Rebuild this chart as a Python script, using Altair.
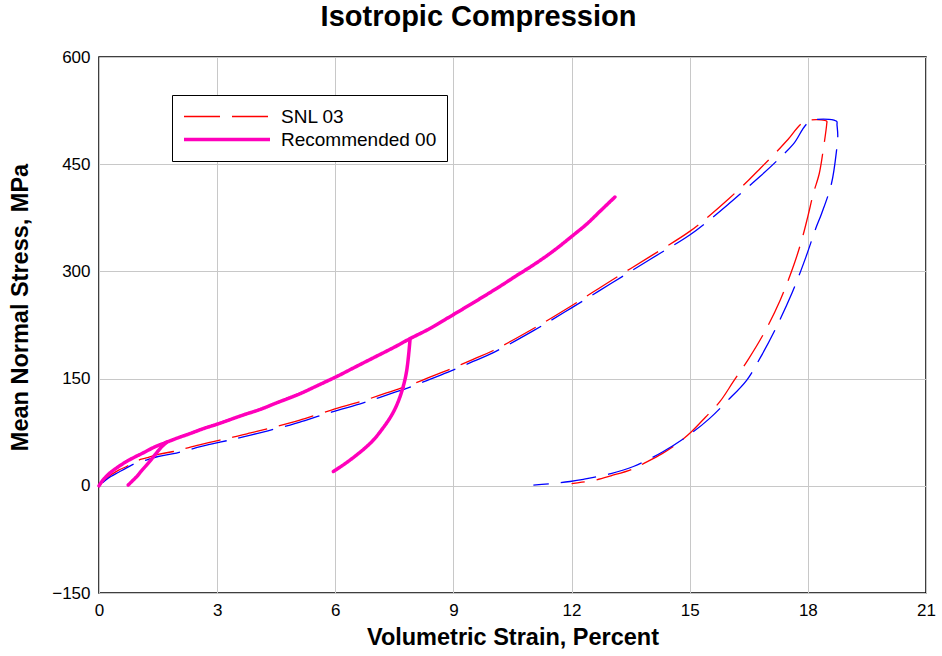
import altair as alt
import pandas as pd

# ---------------- data ----------------
# Recommended 00 : main loading curve
rec_main_strain = [0, 0.1, 0.28, 0.5, 0.7, 0.9, 1.12, 1.4, 1.72, 2.0, 2.31, 2.65, 2.99, 3.66,
                   4.1, 4.51, 5.11, 5.5, 6.04, 6.5, 7.0, 7.5, 7.9, 8.4, 8.83, 9.5, 10.18,
                   10.6, 11.03, 11.5, 12.05, 12.4, 12.72, 13.1]
rec_main_stress = [0, 8, 18, 27, 34, 40, 46, 54, 61, 67, 73, 80, 86, 99,
                   107, 116, 129, 139, 153, 166, 180, 194, 206, 220, 234, 256, 279,
                   294, 309, 327, 351, 367, 384, 404]
# Recommended 00 : first unload/reload loop
rec_loop1_strain = [1.72, 1.6, 1.46, 1.33, 1.21, 1.08, 0.96, 0.85, 0.74]
rec_loop1_stress = [61, 55, 46, 37, 29, 21, 13, 7, 1]
# Recommended 00 : second unload/reload loop
rec_loop2_strain = [7.9, 7.86, 7.81, 7.74, 7.64, 7.52, 7.39, 7.2, 7.0, 6.8, 6.54, 6.25, 5.95]
rec_loop2_stress = [206, 182, 160, 142, 124, 108, 95, 80, 66, 55, 43, 31, 20]

# SNL 03 (red)
snl_red_strain = [0, 0.15, 0.3, 0.5, 0.7, 0.91, 1.2, 1.5, 1.89, 2.18, 2.6, 3.07, 3.4, 3.85, 4.29,
                  4.85, 5.1, 5.9, 6.71, 7.3, 7.9, 8.4, 8.91, 9.5, 10, 11, 12, 13, 14, 15, 15.5,
                  16, 16.5, 16.79, 17.2, 17.5, 17.93, 18.48,
                  18.48, 18.39, 18.29, 18.14, 18.0, 17.85, 17.65, 17.3, 16.9, 16.5, 16.11,
                  15.77, 15.4, 15.05, 14.71, 14.3, 13.86, 13.53, 13.0, 12.6, 12.26, 12.0]
snl_red_stress = [0, 8, 15, 22, 27, 34, 39, 44, 48, 52, 58, 64, 68, 74, 80,
                  88, 92, 106, 119, 130, 141, 152, 163, 177, 189, 219, 252, 287, 321, 356, 378,
                  402, 428, 444, 467, 485, 510, 510,
                  507, 470, 437, 409, 377, 345, 310, 260, 215, 178, 146,
                  118, 96, 76, 60, 45, 32, 23, 14, 8, 5, 3]

# SNL 03 (blue companion curve, not in legend)
snl_blue_strain = [0, 0.15, 0.3, 0.5, 0.7, 0.91, 1.2, 1.5, 1.89, 2.18, 2.6, 3.07, 3.4, 3.85, 4.29,
                   4.85, 5.1, 5.9, 6.71, 7.3, 7.9, 8.4, 8.91, 9.5, 10, 11, 12, 13, 14, 15, 15.5,
                   16, 16.5, 16.79, 17.2, 17.63, 18.06, 18.73,
                   18.74, 18.76, 18.73, 18.6, 18.35, 18.2, 17.95, 17.6, 17.2, 16.8, 16.45,
                   15.94, 15.5, 15.05, 14.33, 13.57, 13.0, 12.3, 11.96, 11.5, 11.03]
snl_blue_stress = [0, 7, 13, 19, 25, 31, 36, 41, 45, 49, 55, 61, 65, 71, 77,
                   85, 89, 103, 116, 127, 138, 149, 160, 174, 186, 216, 249, 283, 317, 351, 372,
                   395, 419, 433, 454, 478, 510, 510,
                   505, 490, 470, 423, 381, 360, 320, 270, 222, 180, 148,
                   118, 94, 74, 48, 27, 17, 9, 6, 3, 1]

x_ticks = [0, 3, 6, 9, 12, 15, 18, 21]
y_ticks = [-150, 0, 150, 300, 450, 600]

series_names = ["SNL 03", "Recommended 00"]
series_colors = ["#ff0000", "#ff00bb"]

# ---------------- table ----------------
rows = []
def add(series, seg, xs, ys):
    for i, (a, b) in enumerate(zip(xs, ys)):
        rows.append({"series": series, "seg": seg, "idx": i, "strain": a, "stress": b})

add("Recommended 00", "main", rec_main_strain, rec_main_stress)
add("Recommended 00", "loop1", rec_loop1_strain, rec_loop1_stress)
add("Recommended 00", "loop2", rec_loop2_strain, rec_loop2_stress)
add("SNL 03", "red", snl_red_strain, snl_red_stress)
add("SNL 03 blue", "blue", snl_blue_strain, snl_blue_stress)
df = pd.DataFrame(rows)

FONT = "Liberation Sans"

x_enc = alt.X("strain:Q", scale=alt.Scale(domain=[0, 21], nice=False),
              axis=alt.Axis(values=x_ticks, title="Volumetric Strain, Percent",
                            titleY=44, titleBaseline="middle", labelFlush=False))
y_enc = alt.Y("stress:Q", scale=alt.Scale(domain=[-150, 600], nice=False),
              axis=alt.Axis(values=y_ticks, title="Mean Normal Stress, MPa",
                            titleX=-79, titleY=250, titleAlign="center",
                            titleBaseline="middle", labelFlush=False))

color_enc = alt.Color("series:N",
                      scale=alt.Scale(domain=series_names, range=series_colors),
                      legend=alt.Legend(title=None, orient="none", legendX=73, legendY=38,
                                        symbolType="stroke", symbolSize=7396, clipHeight=23,
                                        labelFontSize=19, labelFont=FONT, labelOffset=9,
                                        padding=10, rowPadding=0,
                                        strokeColor="black", fillColor="white",
                                        labelColor="black", symbolOpacity=1))
dash_enc = alt.StrokeDash("series:N",
                          scale=alt.Scale(domain=series_names, range=[[36, 12], [1, 0]]),
                          legend=alt.Legend(title=None))
width_enc = alt.StrokeWidth("series:N",
                            scale=alt.Scale(domain=series_names, range=[1.3, 3.5]),
                            legend=alt.Legend(title=None))

base = alt.Chart(df)

red = base.transform_filter(alt.datum.series == "SNL 03").mark_line(
    interpolate="catmull-rom").encode(
    x=x_enc, y=y_enc, color=color_enc, strokeDash=dash_enc, strokeWidth=width_enc,
    detail="seg:N", order="idx:Q")

blue = base.transform_filter(alt.datum.series == "SNL 03 blue").mark_line(
    interpolate="catmull-rom",
    color="#0000ff", strokeWidth=1.3, strokeDash=[36, 12], strokeDashOffset=-5).encode(
    x="strain:Q", y="stress:Q", detail="seg:N", order="idx:Q")

rec = base.transform_filter(alt.datum.series == "Recommended 00").mark_line(
    interpolate="catmull-rom", strokeCap="round", strokeJoin="round").encode(
    x=x_enc, y=y_enc, color=color_enc, strokeDash=dash_enc, strokeWidth=width_enc,
    detail="seg:N", order="idx:Q")

chart = alt.layer(red, blue, rec).properties(
    width=827, height=536,
    title=alt.TitleParams("Isotropic Compression", fontSize=29, fontWeight="bold",
                          font=FONT, anchor="middle", offset=16, dx=-34, color="black"),
    autosize=alt.AutoSizeParams(type="none"),
    padding={"left": 99, "top": 57, "right": 16, "bottom": 63},
    background="white",
).configure_view(
    stroke="black", strokeWidth=1.5
).configure_axis(
    grid=True, gridColor="#c8c8c8", gridWidth=1, tickSize=0, domain=False,
    labelFont=FONT, labelFontSize=17, labelColor="black", labelPadding=9,
    titleFont=FONT, titleFontSize=23.5, titleFontWeight="bold", titleColor="black",
)

chart.save("out.html", embed_options={"renderer": "svg", "actions": False})
